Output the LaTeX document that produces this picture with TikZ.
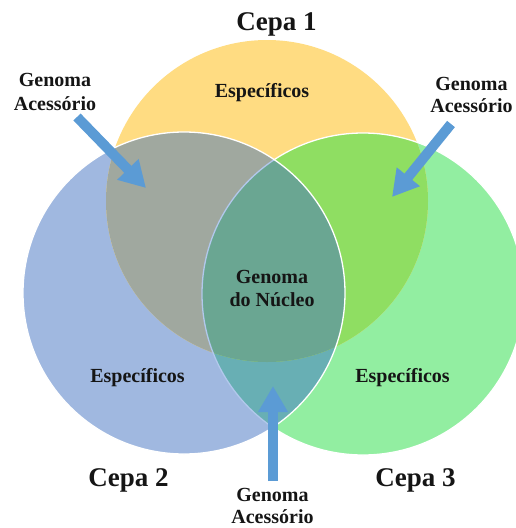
\documentclass[tikz,border=0pt]{standalone}
\usepackage{fontspec}
\setmainfont{Liberation Serif}
\usetikzlibrary{arrows.meta}

\definecolor{setY}{HTML}{FFDC82}
\definecolor{setB}{HTML}{A0B8E0}
\definecolor{setG}{HTML}{92EEA1}
\definecolor{setYB}{HTML}{A0A89F}
\definecolor{setYG}{HTML}{8FDE62}
\definecolor{setBG}{HTML}{68AFB4}
\definecolor{setYBG}{HTML}{6AA692}
\definecolor{rimG}{HTML}{B2C8EC}
\definecolor{pointerblue}{HTML}{5B9BD5}
\definecolor{ink}{HTML}{151515}

\begin{document}
\begin{tikzpicture}[x=1pt,y=-1pt,
  lbl/.style={font=\bfseries\fontsize{20}{24}\selectfont, anchor=base, inner sep=0pt, text=ink},
  cepa/.style={font=\bfseries\fontsize{27}{32}\selectfont, anchor=base, inner sep=0pt, text=ink},
  rad/.style={radius=161pt},
  rim/.style={line width=1.3pt},
  pointer/.style={draw=pointerblue, line width=10pt, -{Triangle[width=28pt,length=26pt]}}]
\useasboundingbox (0,0) rectangle (515,528);

% circle centres
\coordinate (cY) at (267,201);
\coordinate (cB) at (184,293);
\coordinate (cG) at (363,294);

% single sets
\fill[setB] (cB) circle[rad];
\fill[setG] (cG) circle[rad];
\fill[setY] (cY) circle[rad];

% Cepa 2 and Cepa 3 overlap
\begin{scope}
  \clip (cB) circle[rad];
  \fill[setBG] (cG) circle[rad];
\end{scope}

% overlaps with Cepa 1 and the core
\begin{scope}
  \clip (cY) circle[rad];
  \fill[setYB] (cB) circle[rad];
  \fill[setYG] (cG) circle[rad];
  \clip (cB) circle[rad];
  \fill[setYBG] (cG) circle[rad];
\end{scope}

% rims
\begin{scope}[even odd rule]
  \clip (-20,-20) rectangle (540,550) (cB) circle[rad];
  \draw[white, rim] (cG) circle[rad];
\end{scope}
\begin{scope}
  \clip (cB) circle[rad];
  \draw[rimG, rim] (cG) circle[rad];
\end{scope}
\draw[white, rim] (cB) circle[rad];

% titles
\node[cepa] (t1) at (276.5,30) {Cepa 1};
\node[cepa] (t2) at (128.5,486) {Cepa 2};
\node[cepa] (t3) at (415.5,486) {Cepa 3};

% region labels
\node[lbl] (e1) at (262,97) {Específicos};
\node[lbl] (e2) at (137.5,382) {Específicos};
\node[lbl] (e3) at (402.5,382) {Específicos};
\node[lbl] (core1) at (272,283.5) {Genoma};
\node[lbl] (core2) at (272,306.5) {do Núcleo};

% accessory genome labels
\node[lbl] (gl1) at (55,86.7) {Genoma};
\node[lbl] (gl2) at (55,110) {Acessório};
\node[lbl] (gr1) at (471.5,90) {Genoma};
\node[lbl] (gr2) at (471.5,112.7) {Acessório};
\node[lbl] (gb1) at (272.5,501.5) {Genoma};
\node[lbl] (gb2) at (272.5,523) {Acessório};

% pointers
\coordinate (p1s) at (77,117);
\coordinate (p1t) at (146,188);
\coordinate (p2s) at (451,124);
\coordinate (p2t) at (392,197);
\coordinate (p3s) at (273,481);
\coordinate (p3t) at (273,386);
\draw[pointer] (p1s) -- (p1t);
\draw[pointer] (p2s) -- (p2t);
\draw[pointer] (p3s) -- (p3t);
\end{tikzpicture}
\end{document}
